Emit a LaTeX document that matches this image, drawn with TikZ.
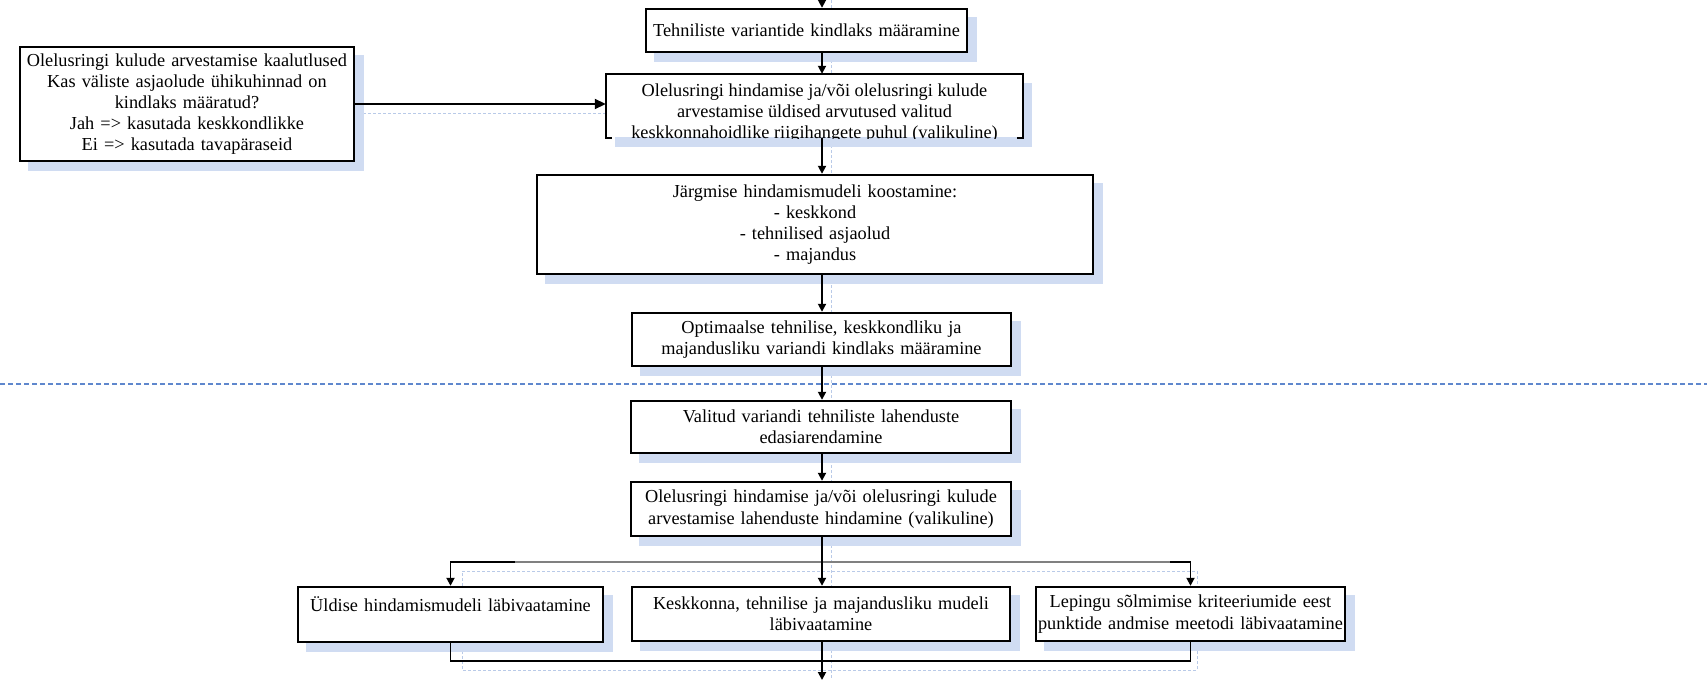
\documentclass[tikz,border=0pt]{standalone}
\usepackage{fontspec}
\setmainfont{Liberation Serif}
\usetikzlibrary{arrows.meta,calc,backgrounds}
\definecolor{shad}{RGB}{208,220,242}
\definecolor{sepblue}{RGB}{95,135,205}
\definecolor{faint}{RGB}{185,202,232}
\newcommand\bxfont{\fontsize{9.15pt}{10.6pt}\selectfont}
\newcommand\myCtrLine[1]{\makebox[\linewidth]{#1}}
\tikzset{
 box/.style={draw=black, line width=1.2pt, fill=white, inner xsep=0pt, inner ysep=0pt, align=center, font=\bxfont},
 txt/.style={inner sep=0pt, align=center, font=\bxfont},
 conn/.style={draw=black, line width=0.9pt},
 graycon/.style={draw=black!50, line width=0.9pt},
 arr/.style={conn, -{Triangle[length=4pt,width=4pt]}},
 bigarr/.style={conn, -{Triangle[length=5.5pt,width=5pt]}},
 sepline/.style={draw=sepblue, line width=1.3pt, dash pattern=on 2.6pt off 1.4pt},
 faintline/.style={draw=faint, line width=0.5pt, dash pattern=on 1.5pt off 1pt},
}
\begin{document}
\begin{tikzpicture}[x=0.5pt,y=-0.5pt]
\useasboundingbox (0,0) rectangle (1707,680);

% separator
\draw[sepline] (0,384) -- (1707,384);

% boxes
\node[box, text width=160.5pt, minimum height=21.5pt] (tech) at (806.5,30.5) {\myCtrLine{Tehniliste variantide kindlaks määramine}};
\node[box, draw=none, text width=207.5pt, minimum height=31pt] (lcc1) at (814.5,106) {};
\begin{scope}
\clip (lcc1.north west) rectangle (lcc1.south east);
\node[txt] (lcc1t) at (814.5,113) {Olelusringi hindamise ja/või olelusringi kulude\\arvestamise üldised arvutused valitud\\keskkonnahoidlike riigihangete puhul (valikuline)};
\end{scope}
\draw[line width=1.2pt] ($(lcc1.south west)+(6,0)$) -- (lcc1.south west) -- (lcc1.north west) -- (lcc1.north east) -- (lcc1.south east) -- ++(-6,0);

\node[box, text width=167pt, minimum height=57pt] (cons) at (187,104) {\raisebox{-3pt}{\parbox{167pt}{\centering Olelusringi kulude arvestamise kaalutlused\\Kas väliste asjaolude ühikuhinnad on\\kindlaks määratud?\\Jah => kasutada keskkondlikke\\Ei => kasutada tavapäraseid}}};
\node[box, text width=278pt, minimum height=49.5pt] (next) at (815,224.5) {Järgmise hindamismudeli koostamine:\\- keskkond\\- tehnilised asjaolud\\- majandus};
\node[box, text width=189.5pt, minimum height=26.5pt] (opt) at (821.5,339.5) {Optimaalse tehnilise, keskkondliku ja\\majandusliku variandi kindlaks määramine};
\node[box, text width=190pt, minimum height=26pt] (val) at (821,427) {Valitud variandi tehniliste lahenduste\\edasiarendamine};
\node[box, text width=190pt, minimum height=27pt] (lcc2) at (821,509) {\myCtrLine{Olelusringi hindamise ja/või olelusringi kulude}\\\myCtrLine{arvestamise lahenduste hindamine (valikuline)}};
\node[box, text width=152.5pt, minimum height=27.5pt] (yld) at (450.5,614.5) {\myCtrLine{Üldise hindamismudeli läbivaatamine}\\\phantom{l}};
\node[box, text width=189pt, minimum height=27pt] (kesk) at (821,614) {\myCtrLine{Keskkonna, tehnilise ja majandusliku mudeli}\\läbivaatamine};
\node[box, text width=154.5pt, minimum height=27pt] (lep) at (1190.5,614) {\myCtrLine{Lepingu sõlmimise kriteeriumide eest}\\\myCtrLine{punktide andmise meetodi läbivaatamine}};

% shadows
\begin{scope}[on background layer]
\draw[faintline] (831,0) -- (831,680);
\draw[faintline] (363,113) -- (616,113);
\draw[faintline] (462,596) -- (462,571) -- (1197,571) -- (1197,596);
\draw[faintline] (462,651) -- (462,670) -- (1197,670) -- (1197,651);
\foreach \n in {tech,lcc1,cons,next,opt,val,lcc2,yld,kesk,lep}
  \fill[shad] ($(\n.north west)+(9,9)$) rectangle ($(\n.south east)+(9,9)$);
\end{scope}

% connectors
\coordinate (topin) at (822,0);
\coordinate (br) at (822,562);
\coordinate (mg) at (822,661);
\coordinate (out) at (822,680);
\draw[arr] (topin) -- (tech.north -| topin);
\draw[arr] (tech.south -| topin) -- (lcc1.north -| topin);
\draw[bigarr] (cons.east) -- (cons.east -| lcc1.west);
\draw[arr] (lcc1.south -| topin) -- (next.north -| topin);
\draw[arr] (next.south -| topin) -- (opt.north -| topin);
\draw[arr] (opt.south -| topin) -- (val.north -| topin);
\draw[arr] (val.south -| topin) -- (lcc2.north -| topin);
\draw[arr] (br) -| (yld.north);
\draw[arr] (br) -| (lep.north);
\draw[graycon] (515,562) -- (1170,562);
\draw[arr] (lcc2.south -| topin) -- (kesk.north -| topin);
\draw[conn] (yld.south) |- (mg);
\draw[conn] (lep.south) |- (mg);
\draw[conn] (kesk.south -| topin) -- (mg);
\draw[arr] (mg) -- (out);
\end{tikzpicture}
\end{document}
